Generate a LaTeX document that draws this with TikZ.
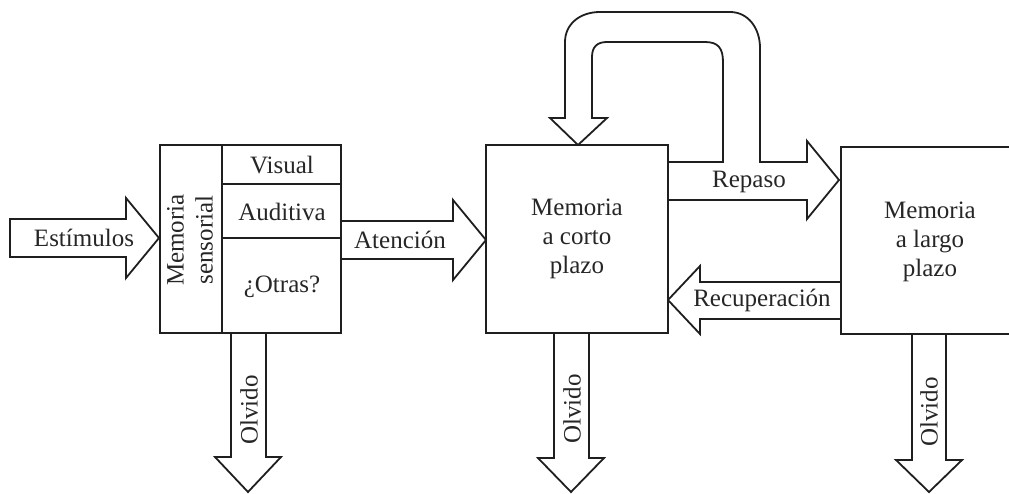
\documentclass[tikz,border=0pt]{standalone}
\usepackage{fontspec}
\setmainfont{Liberation Serif}
\begin{document}
\begin{tikzpicture}[x=1pt,y=-1pt]
\tikzset{
  ln/.style={draw=black!88, line width=1.8pt, line join=miter},
  box/.style={ln, rectangle, inner sep=0pt},
  lbl/.style={font=\fontsize{25}{29}\selectfont, text=black!85, align=center, inner sep=0pt},
}
\useasboundingbox (0,0) rectangle (1009,494);

% boxes
\node[box, minimum width=181pt, minimum height=188pt] (sm) at (250.5,239) {};
\draw[ln] (222,145) -- (222,333);
\draw[ln] (222,184) -- (341,184);
\draw[ln] (222,238) -- (341,238);
\node[box, minimum width=182pt, minimum height=188pt] (stm) at (577,239) {};
\node[box, minimum width=176pt, minimum height=187pt] (ltm) at (929,240.5) {};

% box texts
\node[lbl, rotate=90] (smt) at (190,240) {Memoria\\sensorial};
\node[lbl] (vis) at (282,165) {Visual};
\node[lbl] (aud) at (282,212) {Auditiva};
\node[lbl] (otr) at (282,287) {¿Otras?};
\node[lbl] (stmt) at (577,239) {Memoria\\a corto\\plazo};
\node[lbl] (ltmt) at (930,242) {Memoria\\a largo\\plazo};

% Estimulos arrow
\draw[ln] (10,219) -- (126,219) -- (126,198) -- (159,238) -- (126,278) -- (126,257) -- (10,257) -- cycle;
\node[lbl] (est) at (84,238) {Estímulos};

% Atencion arrow
\draw[ln] (341,221) -- (453,221) -- (453,200) -- (486,240) -- (453,280) -- (453,259) -- (341,259);
\node[lbl] (ate) at (400,240) {Atención};

% Repaso + loop arrow
\draw[ln] (668,162) -- (723,162) -- (723,62) .. controls (723,48) and (718,42) .. (705,42)
  -- (607,42) .. controls (597,42) and (592,47) .. (592,57) -- (592,118)
  -- (607,118) -- (578,145) -- (550,118) -- (565,118)
  -- (565,42) .. controls (565,24) and (580,12) .. (600,12)
  -- (730,12) .. controls (748,12) and (760,28) .. (760,48)
  -- (760,162) -- (807,162) -- (807,141) -- (839,180) -- (807,219) -- (807,200) -- (668,200);
\node[lbl] (rep) at (749,182) {Repaso};

% Recuperacion arrow
\draw[ln] (841,282) -- (700,282) -- (700,266) -- (668,300) -- (700,334) -- (700,319) -- (841,319);
\node[lbl] (rec) at (762,300) {Recuperación};

% Olvido arrows
\draw[ln] (231,333) -- (231,457) -- (215,457) -- (248,492) -- (281,457) -- (266,457) -- (266,333);
\node[lbl, rotate=90] (ol1) at (249,410) {Olvido};
\draw[ln] (554,333) -- (554,458) -- (538,458) -- (571,492) -- (604,458) -- (589,458) -- (589,333);
\node[lbl, rotate=90] (ol2) at (572,409) {Olvido};
\draw[ln] (912,334) -- (912,460) -- (896,460) -- (929,492) -- (962,460) -- (946,460) -- (946,334);
\node[lbl, rotate=90] (ol3) at (929,412) {Olvido};
\end{tikzpicture}
\end{document}
